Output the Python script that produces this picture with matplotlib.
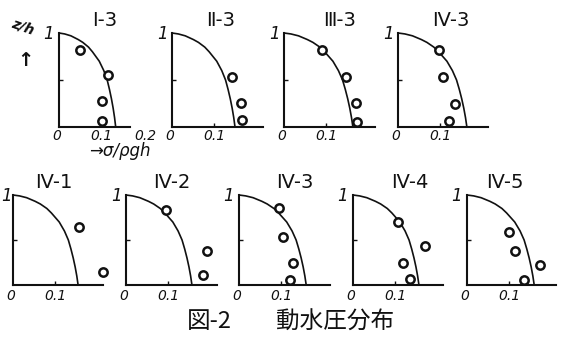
import numpy as np
import matplotlib.pyplot as plt
from matplotlib import transforms

plt.rcParams['font.family'] = ['DejaVu Sans', 'Noto Sans CJK JP']

# panel titles
titles = ['Ⅰ-3', 'Ⅱ-3', 'Ⅲ-3', 'Ⅳ-3', 'Ⅳ-1', 'Ⅳ-2', 'Ⅳ-3', 'Ⅳ-4', 'Ⅳ-5']

# measured points (sigma/rho g h, z/h) per panel
obs_x = [
    [0.050, 0.117, 0.102, 0.102],
    [0.143, 0.164, 0.167],
    [0.090, 0.148, 0.171, 0.174],
    [0.098, 0.107, 0.136, 0.121],
    [0.157, 0.214],
    [0.095, 0.193, 0.183],
    [0.095, 0.105, 0.129, 0.121],
    [0.107, 0.171, 0.119, 0.136],
    [0.100, 0.114, 0.174, 0.136],
]
obs_z = [
    [0.82, 0.55, 0.28, 0.06],
    [0.53, 0.26, 0.07],
    [0.82, 0.53, 0.26, 0.05],
    [0.82, 0.53, 0.24, 0.06],
    [0.64, 0.14],
    [0.83, 0.38, 0.11],
    [0.86, 0.53, 0.24, 0.06],
    [0.70, 0.43, 0.24, 0.07],
    [0.59, 0.38, 0.22, 0.06],
]

# theoretical curve: value at the bottom for each panel, and the common shape
curve_base = [0.135, 0.150, 0.164, 0.164, 0.155, 0.157, 0.160, 0.157, 0.160]
shape_z = [1.0, 0.99, 0.97, 0.93, 0.90, 0.85, 0.80, 0.70, 0.60, 0.50, 0.40, 0.30, 0.20, 0.10, 0.0]
shape_x = [0.0, 0.10, 0.21, 0.34, 0.42, 0.52, 0.59, 0.71, 0.79, 0.85, 0.89, 0.925, 0.955, 0.98, 1.0]

W, H = 568, 337
PX = 420.0  # pixels per unit of sigma/rho g h

# layout in pixels: y-axis x, axis end x, top y, bottom y, title x, title y
left = [59, 172, 284, 398, 13, 126, 239, 353, 467]
right = [130, 263, 375, 488, 103, 217, 330, 443, 556]
top = [33] * 4 + [195] * 5
bot = [127] * 4 + [285] * 5
tx = [105, 221, 340, 451, 54, 172, 295, 410, 505]
ty = [20] * 4 + [182] * 5

fig = plt.figure(figsize=(W / 100, H / 100), dpi=100)
fig.patch.set_facecolor('white')

ink = '#111111'
for i in range(9):
    l, r, t, b = left[i], right[i], top[i], bot[i]
    xmax = (r - l) / PX
    ax = fig.add_axes([l / W, 1 - b / H, (r - l) / W, (b - t) / H])
    ax.set_xlim(0, xmax)
    ax.set_ylim(0, 1)
    ax.patch.set_alpha(0)
    for s in ['top', 'right']:
        ax.spines[s].set_visible(False)
    for s in ['left', 'bottom']:
        ax.spines[s].set_linewidth(1.5)
        ax.spines[s].set_color(ink)
    ax.set_xticks([0.1])
    ax.set_yticks([0.5])
    ax.tick_params(direction='in', length=3, width=1, colors=ink,
                   labelbottom=False, labelleft=False)

    cx = [curve_base[i] * v for v in shape_x]
    ax.plot(cx, shape_z, color=ink, lw=1.2, clip_on=False)
    ax.plot(obs_x[i], obs_z[i], 'o', ms=6, mfc='white', mec=ink, mew=1.8,
            clip_on=False)

    # hand-lettered labels, offset in pixels below the x axis
    dy = 9 if i < 4 else 11
    below = ax.get_xaxis_transform() + transforms.ScaledTranslation(0, -dy / 100, fig.dpi_scale_trans)
    ax.text(-0.006, 0, '0', transform=below, ha='center', va='center',
            fontsize=10, style='italic', color=ink)
    ax.text(0.1, 0, '0.1', transform=below, ha='center', va='center',
            fontsize=10, style='italic', color=ink)
    if i == 0:
        ax.text(0.205, 0, '0.2', transform=below, ha='center', va='center',
                fontsize=10, style='italic', color=ink)
    one_x = max(l - 10, 6)
    ax.text((one_x - l) / PX, 0.99, '1', ha='center', va='center',
            fontsize=12, style='italic', color=ink)

    fig.text(tx[i] / W, 1 - ty[i] / H, titles[i], ha='center', va='center',
             fontsize=14, color=ink)

# axis names
fig.text(23 / W, 1 - 27 / H, 'z/h', ha='center', va='center', fontsize=10,
         style='italic', color=ink, rotation=-20, fontweight='bold')
fig.text(25 / W, 1 - 60 / H, '↑', ha='center', va='center', fontsize=14,
         color=ink, fontweight='bold')
fig.text(120 / W, 1 - 151 / H, '→σ/ρgh', ha='center', va='center',
         fontsize=12, style='italic', color=ink)

cjk = ['Noto Sans CJK JP', 'DejaVu Sans']
fig.text(209 / W, 1 - 322 / H, '図-2', ha='center', va='center',
         fontsize=17, color=ink, family=cjk)
fig.text(335 / W, 1 - 322 / H, '動水圧分布', ha='center', va='center',
         fontsize=17, color=ink, family=cjk)

fig.savefig('out.png', dpi=100)
